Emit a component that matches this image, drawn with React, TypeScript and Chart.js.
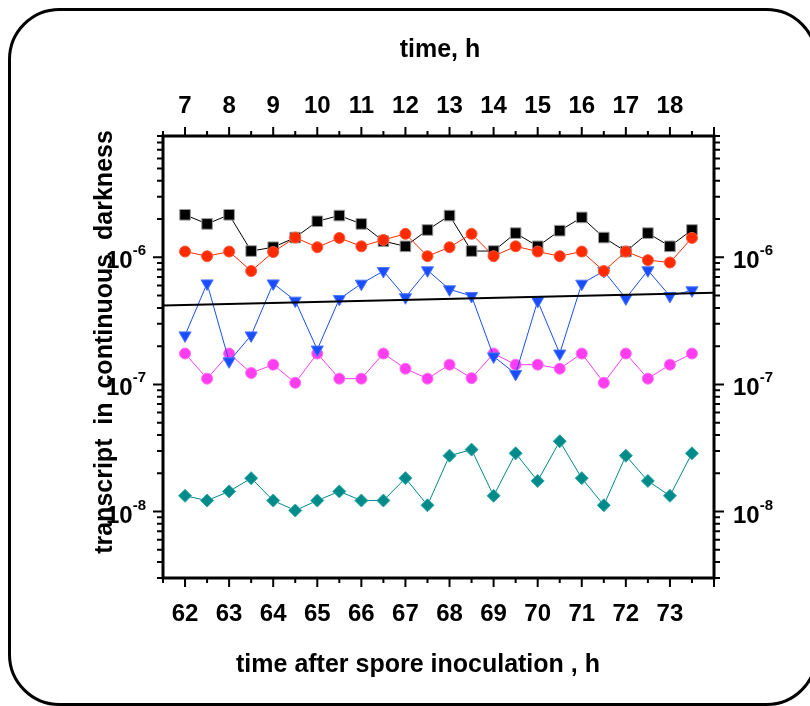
import React, { useEffect, useRef } from "react";
import { Chart, registerables } from "chart.js";

Chart.register(...registerables);

const xValues = [62, 62.5, 63, 63.5, 64, 64.5, 65, 65.5, 66, 66.5, 67, 67.5, 68, 68.5, 69, 69.5, 70, 70.5, 71, 71.5, 72, 72.5, 73, 73.5];

const blackSeries = [2.16e-6, 1.83e-6, 2.16e-6, 1.12e-6, 1.2e-6, 1.43e-6, 1.92e-6, 2.13e-6, 1.83e-6, 1.34e-6, 1.22e-6, 1.64e-6, 2.13e-6, 1.12e-6, 1.12e-6, 1.55e-6, 1.22e-6, 1.62e-6, 2.06e-6, 1.43e-6, 1.11e-6, 1.55e-6, 1.22e-6, 1.64e-6];
const redSeries = [1.11e-6, 1.02e-6, 1.11e-6, 7.8e-7, 1.1e-6, 1.43e-6, 1.2e-6, 1.42e-6, 1.22e-6, 1.37e-6, 1.53e-6, 1.02e-6, 1.2e-6, 1.53e-6, 1.02e-6, 1.22e-6, 1.11e-6, 1.02e-6, 1.11e-6, 7.8e-7, 1.11e-6, 9.5e-7, 9.1e-7, 1.42e-6];
const blueSeries = [2.43e-7, 6.23e-7, 1.52e-7, 2.43e-7, 6.23e-7, 4.56e-7, 1.88e-7, 4.7e-7, 6.2e-7, 7.8e-7, 4.85e-7, 7.9e-7, 5.6e-7, 4.96e-7, 1.66e-7, 1.21e-7, 4.53e-7, 1.75e-7, 6.2e-7, 7.8e-7, 4.75e-7, 7.9e-7, 4.96e-7, 5.5e-7];
const magentaSeries = [1.75e-7, 1.11e-7, 1.75e-7, 1.23e-7, 1.43e-7, 1.03e-7, 1.75e-7, 1.11e-7, 1.11e-7, 1.75e-7, 1.33e-7, 1.11e-7, 1.43e-7, 1.12e-7, 1.75e-7, 1.43e-7, 1.43e-7, 1.33e-7, 1.75e-7, 1.03e-7, 1.75e-7, 1.11e-7, 1.43e-7, 1.75e-7];
const tealSeries = [1.33e-8, 1.22e-8, 1.44e-8, 1.83e-8, 1.22e-8, 1.02e-8, 1.22e-8, 1.44e-8, 1.22e-8, 1.22e-8, 1.83e-8, 1.12e-8, 2.75e-8, 3.07e-8, 1.33e-8, 2.87e-8, 1.74e-8, 3.57e-8, 1.83e-8, 1.12e-8, 2.75e-8, 1.74e-8, 1.33e-8, 2.87e-8];

const fitX = [61.5, 74];
const fitY = [4.17e-7, 5.26e-7];

const bottomTickLabels = [62, 63, 64, 65, 66, 67, 68, 69, 70, 71, 72, 73];
const topTickLabels = [7, 8, 9, 10, 11, 12, 13, 14, 15, 16, 17, 18];
const yTickExponents = [-8, -7, -6];

const xMin = 61.5, xMax = 74;
const topOffset = 55;
const yMin = 3e-9, yMax = 9e-6;

const topTitle = "time, h";
const bottomTitle = "time after spore inoculation , h";
const yTitle = "transcript  in  continuous  darkness";

const FONT = '"Liberation Sans", Arial, Helvetica, sans-serif';

const pts = (ys: number[]) => ys.map((y, i) => ({ x: xValues[i], y }));

const decorPlugin = {
  id: "decor",
  beforeDraw(chart: any) {
    const ctx = chart.ctx;
    ctx.save();
    ctx.fillStyle = "#ffffff";
    ctx.fillRect(0, 0, chart.width, chart.height);
    ctx.strokeStyle = "#000";
    ctx.lineWidth = 3;
    ctx.beginPath();
    (ctx as any).roundRect(9.5, 9.5, 807, 695, 50);
    ctx.stroke();
    ctx.restore();
  },
  afterDraw(chart: any) {
    const ctx = chart.ctx;
    const a = chart.chartArea;
    const sx = chart.scales.x;
    const sx2 = chart.scales.x2;
    const sy = chart.scales.y;
    ctx.save();
    ctx.strokeStyle = "#000";
    ctx.fillStyle = "#000";
    // frame
    ctx.lineWidth = 3;
    ctx.strokeRect(a.left, a.top, a.right - a.left, a.bottom - a.top);
    // x ticks
    ctx.lineWidth = 2;
    ctx.beginPath();
    for (let v = xMin; v <= xMax + 1e-9; v += 0.5) {
      const px = sx.getPixelForValue(v);
      const major = Math.abs(v - Math.round(v)) < 1e-6;
      const len = major ? 9 : 5;
      ctx.moveTo(px, a.bottom);
      ctx.lineTo(px, a.bottom + len);
    }
    for (let v = xMin - topOffset; v <= xMax - topOffset + 1e-9; v += 0.5) {
      const px = sx2.getPixelForValue(v);
      const major = Math.abs(v - Math.round(v)) < 1e-6;
      const len = major ? 9 : 5;
      ctx.moveTo(px, a.top);
      ctx.lineTo(px, a.top - len);
    }
    // y ticks
    for (let k = -9; k <= -5; k++) {
      for (let m = 1; m <= 9; m++) {
        const v = m * Math.pow(10, k);
        if (v < yMin * 0.999 || v > yMax * 1.001) continue;
        const py = sy.getPixelForValue(v);
        const len = m === 1 ? 10 : 6;
        ctx.moveTo(a.left, py);
        ctx.lineTo(a.left - len, py);
        ctx.moveTo(a.right, py);
        ctx.lineTo(a.right + len, py);
      }
    }
    ctx.stroke();

    // x tick labels
    ctx.font = `bold 24px ${FONT}`;
    ctx.textAlign = "center";
    ctx.textBaseline = "alphabetic";
    bottomTickLabels.forEach((v) => {
      ctx.fillText(String(v), sx.getPixelForValue(v), a.bottom + 43);
    });
    topTickLabels.forEach((v) => {
      ctx.fillText(String(v), sx2.getPixelForValue(v), a.top - 23);
    });

    // y tick labels (10^n)
    yTickExponents.forEach((e) => {
      const py = sy.getPixelForValue(Math.pow(10, e));
      ctx.font = `bold 24px ${FONT}`;
      const wBase = ctx.measureText("10").width;
      ctx.font = `bold 15px ${FONT}`;
      const sup = String(e);
      const wSup = ctx.measureText(sup).width;
      ctx.textAlign = "left";
      // left
      const lx = a.left - 17 - wBase - wSup;
      ctx.font = `bold 24px ${FONT}`;
      ctx.fillText("10", lx, py + 11);
      ctx.font = `bold 15px ${FONT}`;
      ctx.fillText(sup, lx + wBase, py - 2);
      // right
      const rx = a.right + 19;
      ctx.font = `bold 24px ${FONT}`;
      ctx.fillText("10", rx, py + 11);
      ctx.font = `bold 15px ${FONT}`;
      ctx.fillText(sup, rx + wBase, py - 2);
    });

    // titles
    ctx.font = `bold 25px ${FONT}`;
    ctx.textAlign = "center";
    ctx.fillText(topTitle, 440, 57);
    ctx.fillText(bottomTitle, 418, 672);
    ctx.translate(112, 342);
    ctx.rotate(-Math.PI / 2);
    ctx.fillText(yTitle, 0, 0);
    ctx.restore();
  },
};

export default function App() {
  const ref = useRef<HTMLCanvasElement | null>(null);
  useEffect(() => {
    if (!ref.current) return;
    const mk = (label: string, ys: number[], color: string, border: string, style: string, radius: number, rotation = 0, order = 0) => ({
      label,
      data: pts(ys),
      borderColor: color,
      backgroundColor: color,
      borderWidth: 1,
      pointStyle: style,
      pointRadius: radius,
      pointRotation: rotation,
      pointBackgroundColor: color,
      pointBorderColor: border,
      pointBorderWidth: 1,
      showLine: true,
      order,
    });
    const chart = new Chart(ref.current, {
      type: "scatter",
      data: {
        datasets: [
          {
            label: "fit",
            data: fitX.map((x, i) => ({ x, y: fitY[i] })),
            borderColor: "#000",
            borderWidth: 2,
            pointRadius: 0,
            showLine: true,
            order: 0,
          } as any,
          mk("teal", tealSeries, "#008b8b", "#30a8a8", "rectRot", 6.5, 0, 5),
          mk("magenta", magentaSeries, "#ff3cf0", "#ff70f4", "circle", 5.5, 0, 4),
          mk("blue", blueSeries, "#1a4dff", "#4f78ff", "triangle", 7, 180, 3),
          mk("red", redSeries, "#ff2a00", "#ff5a3a", "circle", 5.5, 0, 1),
          mk("black", blackSeries, "#000000", "#9a9a9a", "rect", 7.5, 0, 2),
        ],
      },
      options: {
        animation: false,
        responsive: false,
        maintainAspectRatio: false,
        devicePixelRatio: 1,
        layout: { padding: 0 },
        plugins: { legend: { display: false }, tooltip: { enabled: false }, title: { display: false } },
        scales: {
          x: {
            type: "linear",
            position: "bottom",
            min: xMin,
            max: xMax,
            grid: { display: false, drawTicks: false },
            border: { display: false },
            ticks: { display: false },
            afterFit: (s: any) => { s.height = 128; },
          },
          x2: {
            type: "linear",
            position: "top",
            min: xMin - topOffset,
            max: xMax - topOffset,
            grid: { display: false, drawTicks: false },
            border: { display: false },
            ticks: { display: false },
            afterFit: (s: any) => { s.height = 136; },
          },
          y: {
            type: "logarithmic",
            position: "left",
            min: yMin,
            max: yMax,
            grid: { display: false, drawTicks: false },
            border: { display: false },
            ticks: { display: false },
            afterFit: (s: any) => { s.width = 163; },
          },
          y2: {
            type: "logarithmic",
            position: "right",
            min: yMin,
            max: yMax,
            grid: { display: false, drawTicks: false },
            border: { display: false },
            ticks: { display: false },
            afterFit: (s: any) => { s.width = 96; },
          },
        },
      } as any,
      plugins: [decorPlugin as any],
    });
    return () => chart.destroy();
  }, []);
  return (
    <div style={{ position: "absolute", left: 0, top: 0, width: 810, height: 706 }}>
      <canvas ref={ref} width={810} height={706} style={{ display: "block" }} />
    </div>
  );
}
